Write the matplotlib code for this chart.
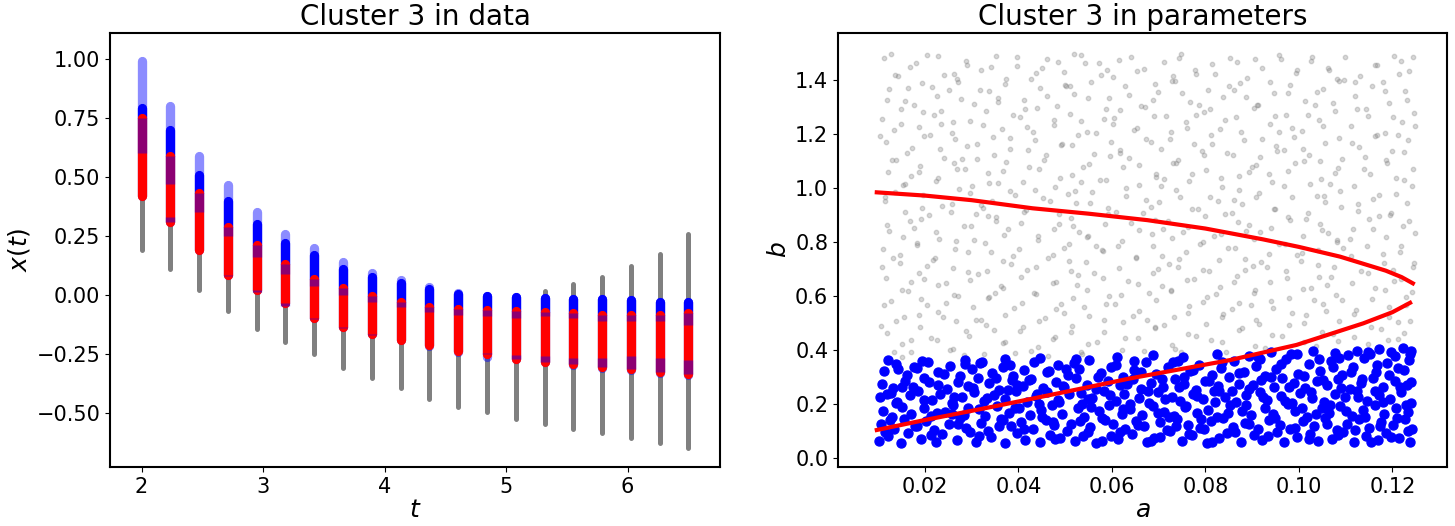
import matplotlib
matplotlib.use("Agg")
import matplotlib.pyplot as plt
import numpy as np

# ---------------------------------------------------------------------------
# Left panel: one column per time step, extents of each group
# ---------------------------------------------------------------------------
t_vals = [2.0, 2.237, 2.474, 2.711, 2.947, 3.184, 3.421, 3.658, 3.895, 4.132,
          4.368, 4.605, 4.842, 5.079, 5.316, 5.553, 5.789, 6.026, 6.263, 6.5]
gray_lo = [0.18, 0.10, 0.01, -0.08, -0.155, -0.21, -0.26, -0.32, -0.36, -0.405,
           -0.45, -0.485, -0.505, -0.535, -0.555, -0.578, -0.595, -0.617, -0.635, -0.659]
gray_hi = [0.80, 0.70, 0.52, 0.40, 0.30, 0.22, 0.17, 0.11, 0.08, 0.05,
           0.03, 0.01, 0.0, 0.0, 0.028, 0.057, 0.089, 0.132, 0.185, 0.268]
red_lo = [0.40, 0.29, 0.17, 0.065, 0.0, -0.055, -0.115, -0.155, -0.185, -0.21,
          -0.23, -0.255, -0.27, -0.289, -0.303, -0.31, -0.324, -0.331, -0.346, -0.353]
red_pure_lo = [0.42, 0.33, 0.19, 0.08, 0.015, -0.045, -0.10, -0.14, -0.17, -0.19,
               -0.21, -0.235, -0.245, -0.253, -0.26, -0.267, -0.267, -0.26, -0.267, -0.274]
red_pure_hi = [0.60, 0.47, 0.35, 0.25, 0.16, 0.09, 0.04, 0.0, -0.03, -0.05,
               -0.07, -0.085, -0.09, -0.096, -0.089, -0.096, -0.11, -0.11, -0.11, -0.125]
red_hi = [0.77, 0.61, 0.45, 0.31, 0.23, 0.15, 0.09, 0.05, 0.015, -0.01,
          -0.03, -0.04, -0.045, -0.046, -0.05, -0.056, -0.064, -0.064, -0.064, -0.056]
blue_lo = [0.40, 0.29, 0.17, 0.065, 0.0, -0.055, -0.115, -0.155, -0.185, -0.21,
           -0.235, -0.26, -0.28, -0.29, -0.305, -0.315, -0.33, -0.335, -0.35, -0.36]
blue_solid_hi = [0.81, 0.72, 0.53, 0.42, 0.32, 0.24, 0.19, 0.13, 0.095, 0.07,
                 0.045, 0.025, 0.015, 0.011, 0.007, 0.004, 0.002, -0.003, -0.008, -0.01]
blue_hi = [1.01, 0.82, 0.61, 0.485, 0.37, 0.28, 0.22, 0.16, 0.115, 0.085,
           0.055, 0.03, 0.017, 0.011, 0.007, 0.004, 0.002, -0.003, -0.008, -0.01]

# ---------------------------------------------------------------------------
# Right panel: parameter samples (a, b)
# ---------------------------------------------------------------------------
gray_pts = [
    (0.0112, 1.482), (0.0168, 1.447), (0.0205, 1.493), (0.0241, 1.418), (0.0287, 1.471), (0.0319, 1.436),
    (0.0352, 1.489), (0.0396, 1.452), (0.0428, 1.405), (0.0461, 1.478), (0.0497, 1.431), (0.0534, 1.494),
    (0.0572, 1.463), (0.0603, 1.412), (0.0641, 1.486), (0.0669, 1.441), (0.0712, 1.468), (0.0748, 1.497),
    (0.0781, 1.424), (0.0815, 1.459), (0.0853, 1.481), (0.0889, 1.408), (0.0921, 1.446), (0.0958, 1.492),
    (0.0993, 1.427), (0.1027, 1.469), (0.1064, 1.438), (0.1098, 1.485), (0.1131, 1.416), (0.1167, 1.454),
    (0.1203, 1.490), (0.1236, 1.433), (0.0143, 1.413), (0.0268, 1.402), (0.0451, 1.443), (0.0589, 1.437),
    (0.0731, 1.413), (0.0907, 1.476), (0.1082, 1.404), (0.1219, 1.469),
    (0.0124, 1.367), (0.0157, 1.321), (0.0193, 1.388), (0.0226, 1.342), (0.0271, 1.394), (0.0304, 1.311),
    (0.0338, 1.359), (0.0371, 1.384), (0.0412, 1.327), (0.0447, 1.372), (0.0483, 1.305), (0.0518, 1.348),
    (0.0556, 1.391), (0.0594, 1.333), (0.0627, 1.376), (0.0663, 1.302), (0.0698, 1.355), (0.0734, 1.398),
    (0.0767, 1.318), (0.0806, 1.364), (0.0838, 1.337), (0.0874, 1.389), (0.0912, 1.309), (0.0946, 1.352),
    (0.0981, 1.381), (0.1013, 1.323), (0.1052, 1.366), (0.1085, 1.397), (0.1121, 1.341), (0.1156, 1.376),
    (0.1192, 1.314), (0.1228, 1.358), (0.0176, 1.306), (0.0357, 1.332), (0.0502, 1.378), (0.0688, 1.326),
    (0.0861, 1.362), (0.1035, 1.306), (0.1179, 1.392), (0.0251, 1.362),
    (0.0108, 1.254), (0.0149, 1.291), (0.0187, 1.226), (0.0219, 1.272), (0.0258, 1.203), (0.0296, 1.248),
    (0.0331, 1.286), (0.0364, 1.217), (0.0403, 1.263), (0.0439, 1.298), (0.0476, 1.232), (0.0511, 1.275),
    (0.0547, 1.209), (0.0583, 1.256), (0.0618, 1.289), (0.0654, 1.224), (0.0691, 1.268), (0.0726, 1.207),
    (0.0759, 1.246), (0.0797, 1.283), (0.0832, 1.219), (0.0866, 1.262), (0.0903, 1.296), (0.0938, 1.238),
    (0.0972, 1.271), (0.1007, 1.211), (0.1043, 1.253), (0.1078, 1.287), (0.1112, 1.228), (0.1148, 1.266),
    (0.1184, 1.203), (0.1221, 1.245), (0.1247, 1.279), (0.0234, 1.237), (0.0418, 1.225), (0.0602, 1.237),
    (0.0781, 1.271), (0.0957, 1.207), (0.1124, 1.293), (0.0133, 1.214),
    (0.0117, 1.172), (0.0161, 1.128), (0.0198, 1.191), (0.0232, 1.143), (0.0279, 1.107), (0.0312, 1.164),
    (0.0347, 1.121), (0.0383, 1.186), (0.0421, 1.139), (0.0455, 1.103), (0.0491, 1.158), (0.0527, 1.195),
    (0.0561, 1.127), (0.0598, 1.169), (0.0636, 1.112), (0.0672, 1.181), (0.0705, 1.146), (0.0742, 1.104),
    (0.0776, 1.163), (0.0812, 1.198), (0.0847, 1.131), (0.0883, 1.176), (0.0917, 1.115), (0.0952, 1.157),
    (0.0989, 1.189), (0.1021, 1.124), (0.1057, 1.167), (0.1093, 1.109), (0.1128, 1.151), (0.1162, 1.193),
    (0.1199, 1.136), (0.1233, 1.178), (0.0139, 1.102), (0.0264, 1.183), (0.0436, 1.177), (0.0617, 1.141),
    (0.0797, 1.122), (0.0968, 1.141), (0.1141, 1.116), (0.1213, 1.196),
    (0.0121, 1.061), (0.0154, 1.013), (0.0189, 1.082), (0.0228, 1.037), (0.0263, 1.094), (0.0301, 1.008),
    (0.0336, 1.056), (0.0374, 1.098), (0.0409, 1.024), (0.0443, 1.071), (0.0479, 1.005), (0.0514, 1.048),
    (0.0551, 1.089), (0.0587, 1.031), (0.0624, 1.076), (0.0658, 1.012), (0.0694, 1.053), (0.0731, 1.092),
    (0.0764, 1.027), (0.0801, 1.068), (0.0836, 1.003), (0.0871, 1.044), (0.0908, 1.087), (0.0943, 1.021),
    (0.0977, 1.063), (0.1011, 1.099), (0.1048, 1.035), (0.1083, 1.074), (0.1117, 1.009), (0.1153, 1.052),
    (0.1188, 1.091), (0.1225, 1.028), (0.1244, 1.071), (0.0171, 1.046), (0.0357, 1.017), (0.0533, 1.023),
    (0.0712, 1.035), (0.0893, 1.058), (0.1066, 1.015), (0.0285, 1.069),
    (0.0114, 0.953), (0.0158, 0.911), (0.0196, 0.974), (0.0237, 0.932), (0.0272, 0.996), (0.0309, 0.905),
    (0.0343, 0.951), (0.0381, 0.988), (0.0416, 0.917), (0.0452, 0.962), (0.0487, 0.903), (0.0523, 0.944),
    (0.0558, 0.985), (0.0592, 0.926), (0.0631, 0.971), (0.0666, 0.908), (0.0701, 0.948), (0.0738, 0.993),
    (0.0772, 0.921), (0.0809, 0.966), (0.0843, 0.902), (0.0879, 0.941), (0.0914, 0.983), (0.0949, 0.924),
    (0.0985, 0.967), (0.1019, 0.906), (0.1055, 0.947), (0.1089, 0.989), (0.1126, 0.915), (0.1159, 0.958),
    (0.1196, 0.901), (0.1231, 0.943), (0.0137, 0.987), (0.0324, 0.927), (0.0506, 0.977), (0.0683, 0.929),
    (0.0862, 0.957), (0.1038, 0.972), (0.1208, 0.979), (0.0255, 0.912),
    (0.0119, 0.862), (0.0153, 0.817), (0.0191, 0.884), (0.0224, 0.839), (0.0266, 0.803), (0.0298, 0.858),
    (0.0334, 0.896), (0.0369, 0.826), (0.0406, 0.871), (0.0441, 0.808), (0.0477, 0.847), (0.0512, 0.889),
    (0.0549, 0.821), (0.0585, 0.865), (0.0621, 0.804), (0.0657, 0.843), (0.0692, 0.882), (0.0729, 0.816),
    (0.0763, 0.857), (0.0799, 0.898), (0.0834, 0.829), (0.0869, 0.874), (0.0905, 0.811), (0.0941, 0.852),
    (0.0976, 0.893), (0.1009, 0.823), (0.1046, 0.866), (0.1081, 0.806), (0.1115, 0.849), (0.1151, 0.887),
    (0.1186, 0.818), (0.1223, 0.861), (0.1248, 0.833), (0.0176, 0.852), (0.0351, 0.877), (0.0529, 0.836),
    (0.0709, 0.849), (0.0887, 0.841), (0.1063, 0.834), (0.1172, 0.897),
    (0.0111, 0.774), (0.0147, 0.723), (0.0184, 0.788), (0.0221, 0.741), (0.0259, 0.705), (0.0293, 0.762),
    (0.0329, 0.797), (0.0366, 0.728), (0.0402, 0.773), (0.0437, 0.709), (0.0473, 0.751), (0.0509, 0.792),
    (0.0544, 0.726), (0.0581, 0.768), (0.0616, 0.703), (0.0652, 0.746), (0.0689, 0.785), (0.0723, 0.719),
    (0.0758, 0.764), (0.0794, 0.799), (0.0829, 0.734), (0.0864, 0.777), (0.0901, 0.712), (0.0936, 0.755),
    (0.0971, 0.794), (0.1004, 0.729), (0.1041, 0.771), (0.1076, 0.707), (0.1111, 0.748), (0.1146, 0.786),
    (0.1182, 0.721), (0.1217, 0.763), (0.1245, 0.708), (0.0204, 0.711), (0.0388, 0.747), (0.0566, 0.787),
    (0.0744, 0.737), (0.0918, 0.726), (0.1094, 0.779), (0.0131, 0.741),
    (0.0116, 0.668), (0.0151, 0.621), (0.0188, 0.687), (0.0227, 0.642), (0.0262, 0.603), (0.0297, 0.659),
    (0.0332, 0.694), (0.0367, 0.628), (0.0405, 0.672), (0.0438, 0.607), (0.0474, 0.649), (0.0513, 0.691),
    (0.0546, 0.624), (0.0582, 0.666), (0.0619, 0.605), (0.0655, 0.645), (0.0688, 0.684), (0.0727, 0.618),
    (0.0761, 0.661), (0.0796, 0.697), (0.0832, 0.633), (0.0868, 0.676), (0.0903, 0.611), (0.0939, 0.653),
    (0.0973, 0.693), (0.1008, 0.627), (0.1044, 0.669), (0.1079, 0.604), (0.1114, 0.647), (0.1149, 0.686),
    (0.1184, 0.622), (0.1219, 0.664), (0.1243, 0.615), (0.0171, 0.652), (0.0349, 0.611), (0.0528, 0.677),
    (0.0707, 0.638), (0.0884, 0.696), (0.1061, 0.641), (0.1201, 0.698),
    (0.0113, 0.567), (0.0156, 0.524), (0.0192, 0.589), (0.0229, 0.541), (0.0267, 0.506), (0.0302, 0.558),
    (0.0337, 0.596), (0.0372, 0.529), (0.0408, 0.573), (0.0444, 0.509), (0.0481, 0.552), (0.0516, 0.591),
    (0.0552, 0.527), (0.0588, 0.569), (0.0623, 0.503), (0.0659, 0.546), (0.0695, 0.587), (0.0732, 0.521),
    (0.0766, 0.563), (0.0803, 0.598), (0.0837, 0.532), (0.0873, 0.575), (0.0909, 0.512), (0.0944, 0.554),
    (0.0979, 0.594), (0.1015, 0.528), (0.1051, 0.571), (0.1086, 0.507), (0.1122, 0.549), (0.1157, 0.588),
    (0.1193, 0.524), (0.1229, 0.566), (0.0139, 0.508), (0.0321, 0.513), (0.0497, 0.536), (0.0676, 0.512),
    (0.0856, 0.553), (0.1032, 0.586), (0.1213, 0.504), (0.0246, 0.576),
    (0.0118, 0.463), (0.0152, 0.421), (0.0189, 0.487), (0.0225, 0.438), (0.0261, 0.405), (0.0295, 0.452),
    (0.0331, 0.494), (0.0368, 0.427), (0.0404, 0.471), (0.0441, 0.412), (0.0478, 0.448), (0.0514, 0.489),
    (0.0548, 0.423), (0.0584, 0.466), (0.0621, 0.402), (0.0656, 0.443), (0.0692, 0.482), (0.0728, 0.419),
    (0.0763, 0.459), (0.0801, 0.497), (0.0835, 0.431), (0.0871, 0.474), (0.0907, 0.416), (0.0942, 0.455),
    (0.0978, 0.492), (0.1012, 0.428), (0.1049, 0.468), (0.1084, 0.433), (0.1119, 0.447), (0.1154, 0.486),
    (0.1191, 0.437), (0.1226, 0.462), (0.0171, 0.392), (0.0283, 0.381), (0.0392, 0.388), (0.0533, 0.394),
    (0.0611, 0.378), (0.0747, 0.391), (0.0152, 0.374), (0.0463, 0.379),
    # second pass, read in vertical strips
    (0.0134, 0.392), (0.0171, 0.437), (0.0106, 0.489), (0.0188, 0.531), (0.0127, 0.582), (0.0163, 0.617),
    (0.0199, 0.663), (0.0109, 0.706), (0.0146, 0.752), (0.0182, 0.797), (0.0123, 0.842), (0.0167, 0.878),
    (0.0194, 0.927), (0.0115, 0.968), (0.0158, 1.016), (0.0187, 1.058), (0.0129, 1.103), (0.0172, 1.148),
    (0.0103, 1.192), (0.0149, 1.236), (0.0196, 1.281), (0.0118, 1.327), (0.0164, 1.372), (0.0137, 1.417),
    (0.0181, 1.462), (0.0127, 1.497),
    (0.0253, 0.401), (0.0214, 0.446), (0.0287, 0.472), (0.0238, 0.523), (0.0205, 0.567), (0.0271, 0.601),
    (0.0246, 0.648), (0.0293, 0.689), (0.0218, 0.733), (0.0265, 0.776), (0.0231, 0.813), (0.0284, 0.861),
    (0.0209, 0.899), (0.0257, 0.942), (0.0296, 0.981), (0.0223, 1.027), (0.0268, 1.072), (0.0241, 1.113),
    (0.0289, 1.157), (0.0211, 1.198), (0.0259, 1.243), (0.0234, 1.286), (0.0278, 1.329), (0.0216, 1.373),
    (0.0263, 1.421), (0.0291, 1.456), (0.0229, 1.488),
    (0.0327, 0.384), (0.0372, 0.431), (0.0348, 0.476), (0.0309, 0.512), (0.0391, 0.556), (0.0336, 0.593),
    (0.0363, 0.638), (0.0314, 0.681), (0.0385, 0.719), (0.0342, 0.764), (0.0306, 0.806), (0.0377, 0.849),
    (0.0352, 0.893), (0.0321, 0.937), (0.0393, 0.974), (0.0338, 1.019), (0.0366, 1.062), (0.0311, 1.107),
    (0.0382, 1.146), (0.0345, 1.189), (0.0324, 1.234), (0.0389, 1.271), (0.0356, 1.318), (0.0317, 1.362),
    (0.0374, 1.403), (0.0341, 1.447), (0.0396, 1.484),
    (0.0426, 0.397), (0.0473, 0.441), (0.0409, 0.486), (0.0457, 0.519), (0.0492, 0.571), (0.0433, 0.611),
    (0.0481, 0.652), (0.0418, 0.698), (0.0464, 0.741), (0.0497, 0.779), (0.0441, 0.823), (0.0486, 0.866),
    (0.0412, 0.912), (0.0468, 0.951), (0.0436, 0.994), (0.0489, 1.037), (0.0423, 1.079), (0.0459, 1.124),
    (0.0494, 1.163), (0.0431, 1.207), (0.0477, 1.252), (0.0414, 1.294), (0.0462, 1.339), (0.0499, 1.381),
    (0.0438, 1.426), (0.0484, 1.467),
    (0.0537, 0.386), (0.0569, 0.429), (0.0512, 0.468), (0.0584, 0.513), (0.0541, 0.559), (0.0593, 0.599),
    (0.0526, 0.641), (0.0562, 0.684), (0.0508, 0.729), (0.0579, 0.771), (0.0547, 0.817), (0.0516, 0.859),
    (0.0591, 0.903), (0.0553, 0.946), (0.0521, 0.989), (0.0574, 1.031), (0.0538, 1.076), (0.0597, 1.118),
    (0.0514, 1.161), (0.0566, 1.204), (0.0533, 1.248), (0.0588, 1.291), (0.0549, 1.335), (0.0511, 1.376),
    (0.0577, 1.419), (0.0543, 1.464), (0.0519, 1.498),
    (0.0668, 0.398), (0.0627, 0.443), (0.0692, 0.484), (0.0645, 0.526), (0.0606, 0.571), (0.0679, 0.612),
    (0.0634, 0.656), (0.0698, 0.699), (0.0652, 0.742), (0.0613, 0.784), (0.0686, 0.828), (0.0641, 0.871),
    (0.0609, 0.913), (0.0674, 0.957), (0.0631, 0.999), (0.0695, 1.042), (0.0657, 1.086), (0.0618, 1.129),
    (0.0683, 1.172), (0.0648, 1.214), (0.0604, 1.259), (0.0671, 1.301), (0.0637, 1.344), (0.0693, 1.387),
    (0.0654, 1.432), (0.0616, 1.473),
    (0.0734, 0.403), (0.0781, 0.451), (0.0712, 0.493), (0.0763, 0.537), (0.0796, 0.578), (0.0727, 0.622),
    (0.0775, 0.663), (0.0741, 0.707), (0.0708, 0.749), (0.0789, 0.792), (0.0752, 0.836), (0.0719, 0.879),
    (0.0784, 0.921), (0.0746, 0.965), (0.0706, 1.008), (0.0771, 1.051), (0.0737, 1.094), (0.0793, 1.137),
    (0.0724, 1.181), (0.0761, 1.224), (0.0715, 1.266), (0.0786, 1.309), (0.0749, 1.353), (0.0729, 1.396),
    (0.0778, 1.438), (0.0743, 1.481),
    (0.0845, 0.394), (0.0812, 0.437), (0.0878, 0.481), (0.0836, 0.524), (0.0897, 0.566), (0.0823, 0.609),
    (0.0861, 0.651), (0.0807, 0.694), (0.0884, 0.737), (0.0849, 0.779), (0.0818, 0.822), (0.0893, 0.864),
    (0.0856, 0.907), (0.0827, 0.951), (0.0871, 0.993), (0.0833, 1.036), (0.0899, 1.079), (0.0859, 1.122),
    (0.0814, 1.164), (0.0876, 1.207), (0.0842, 1.251), (0.0809, 1.294), (0.0887, 1.336), (0.0851, 1.379),
    (0.0821, 1.423), (0.0868, 1.466),
    (0.0928, 0.409), (0.0963, 0.452), (0.0914, 0.496), (0.0985, 0.538), (0.0941, 0.581), (0.0906, 0.623),
    (0.0974, 0.666), (0.0932, 0.709), (0.0997, 0.752), (0.0958, 0.794), (0.0917, 0.837), (0.0981, 0.881),
    (0.0946, 0.923), (0.0909, 0.966), (0.0969, 1.009), (0.0936, 1.052), (0.0992, 1.094), (0.0953, 1.138),
    (0.0921, 1.181), (0.0986, 1.223), (0.0949, 1.266), (0.0911, 1.309), (0.0977, 1.352), (0.0939, 1.394),
    (0.0996, 1.437), (0.0961, 1.479),
    (0.1037, 0.415), (0.1074, 0.458), (0.1012, 0.501), (0.1058, 0.544), (0.1093, 0.587), (0.1026, 0.629),
    (0.1069, 0.672), (0.1041, 0.715), (0.1007, 0.758), (0.1082, 0.801), (0.1049, 0.843), (0.1016, 0.886),
    (0.1091, 0.929), (0.1054, 0.972), (0.1023, 1.014), (0.1078, 1.057), (0.1045, 1.101), (0.1009, 1.143),
    (0.1086, 1.186), (0.1051, 1.229), (0.1019, 1.271), (0.1073, 1.314), (0.1039, 1.357), (0.1097, 1.401),
    (0.1062, 1.443), (0.1028, 1.486),
    (0.1147, 0.421), (0.1213, 0.441), (0.1176, 0.479), (0.1238, 0.508), (0.1118, 0.534), (0.1192, 0.561),
    (0.1229, 0.597), (0.1163, 0.628), (0.1204, 0.657), (0.1132, 0.693), (0.1246, 0.722), (0.1181, 0.754),
    (0.1219, 0.786), (0.1109, 0.811), (0.1158, 0.847), (0.1236, 0.879), (0.1197, 0.909), (0.1127, 0.941),
    (0.1171, 0.973), (0.1242, 1.006), (0.1208, 1.038), (0.1139, 1.069), (0.1186, 1.102), (0.1226, 1.134),
    (0.1113, 1.166), (0.1167, 1.198), (0.1249, 1.231), (0.1201, 1.262), (0.1143, 1.294), (0.1231, 1.327),
    (0.1184, 1.358), (0.1121, 1.391), (0.1215, 1.423), (0.1162, 1.455), (0.1244, 1.484),
]

blue_pts = [
    (0.0102, 0.062), (0.0121, 0.081), (0.0148, 0.057), (0.0163, 0.094), (0.0191, 0.071), (0.0224, 0.059),
    (0.0236, 0.088), (0.0268, 0.066), (0.0297, 0.097), (0.0309, 0.061), (0.0341, 0.079), (0.0372, 0.055),
    (0.0398, 0.092), (0.0415, 0.068), (0.0446, 0.058), (0.0467, 0.085), (0.0489, 0.074), (0.0521, 0.063),
    (0.0549, 0.096), (0.0567, 0.057), (0.0598, 0.082), (0.0613, 0.069), (0.0642, 0.091), (0.0675, 0.058),
    (0.0691, 0.076), (0.0724, 0.099), (0.0749, 0.064), (0.0771, 0.087), (0.0803, 0.056), (0.0829, 0.073),
    (0.0847, 0.093), (0.0876, 0.061), (0.0905, 0.084), (0.0921, 0.067), (0.0953, 0.095), (0.0968, 0.059),
    (0.0997, 0.078), (0.1024, 0.089), (0.1041, 0.062), (0.1072, 0.071), (0.1095, 0.097), (0.1118, 0.058),
    (0.1143, 0.083), (0.1169, 0.066), (0.1187, 0.092), (0.1214, 0.074), (0.1238, 0.060),
    (0.0107, 0.128), (0.0134, 0.109), (0.0156, 0.143), (0.0178, 0.117), (0.0203, 0.136), (0.0219, 0.104),
    (0.0251, 0.125), (0.0276, 0.148), (0.0288, 0.112), (0.0321, 0.131), (0.0335, 0.102), (0.0362, 0.146),
    (0.0384, 0.119), (0.0406, 0.134), (0.0431, 0.107), (0.0458, 0.142), (0.0476, 0.121), (0.0503, 0.101),
    (0.0531, 0.138), (0.0554, 0.115), (0.0579, 0.147), (0.0602, 0.126), (0.0628, 0.108), (0.0651, 0.139),
    (0.0668, 0.118), (0.0703, 0.132), (0.0717, 0.103), (0.0739, 0.145), (0.0762, 0.122), (0.0788, 0.111),
    (0.0812, 0.137), (0.0838, 0.149), (0.0859, 0.114), (0.0884, 0.129), (0.0912, 0.106), (0.0936, 0.141),
    (0.0959, 0.124), (0.0982, 0.109), (0.1008, 0.136), (0.1033, 0.118), (0.1056, 0.147), (0.1081, 0.105),
    (0.1103, 0.127), (0.1128, 0.143), (0.1151, 0.113), (0.1176, 0.132), (0.1201, 0.121), (0.1227, 0.144),
    (0.1242, 0.108),
    (0.0111, 0.176), (0.0129, 0.152), (0.0152, 0.191), (0.0171, 0.163), (0.0197, 0.184), (0.0212, 0.157),
    (0.0243, 0.172), (0.0261, 0.198), (0.0283, 0.161), (0.0316, 0.181), (0.0329, 0.154), (0.0355, 0.193),
    (0.0379, 0.167), (0.0392, 0.186), (0.0424, 0.159), (0.0449, 0.178), (0.0472, 0.196), (0.0494, 0.164),
    (0.0527, 0.185), (0.0541, 0.153), (0.0572, 0.174), (0.0594, 0.197), (0.0621, 0.162), (0.0638, 0.182),
    (0.0664, 0.158), (0.0687, 0.194), (0.0712, 0.171), (0.0733, 0.155), (0.0757, 0.189), (0.0782, 0.166),
    (0.0806, 0.179), (0.0824, 0.151), (0.0853, 0.195), (0.0879, 0.173), (0.0897, 0.158), (0.0927, 0.187),
    (0.0945, 0.164), (0.0976, 0.199), (0.0992, 0.176), (0.1017, 0.153), (0.1049, 0.184), (0.1064, 0.168),
    (0.1089, 0.192), (0.1113, 0.157), (0.1137, 0.178), (0.1162, 0.195), (0.1183, 0.162), (0.1208, 0.186),
    (0.1234, 0.171),
    (0.0104, 0.226), (0.0127, 0.241), (0.0141, 0.208), (0.0168, 0.232), (0.0186, 0.249), (0.0215, 0.214),
    (0.0232, 0.238), (0.0258, 0.203), (0.0279, 0.227), (0.0304, 0.246), (0.0326, 0.211), (0.0348, 0.234),
    (0.0371, 0.219), (0.0394, 0.247), (0.0419, 0.206), (0.0437, 0.229), (0.0462, 0.243), (0.0485, 0.215),
    (0.0508, 0.236), (0.0536, 0.202), (0.0558, 0.224), (0.0583, 0.248), (0.0609, 0.213), (0.0626, 0.237),
    (0.0657, 0.221), (0.0679, 0.204), (0.0698, 0.244), (0.0728, 0.228), (0.0746, 0.211), (0.0773, 0.239),
    (0.0794, 0.217), (0.0819, 0.249), (0.0843, 0.226), (0.0866, 0.207), (0.0888, 0.234), (0.0917, 0.245),
    (0.0931, 0.216), (0.0962, 0.231), (0.0986, 0.203), (0.1003, 0.242), (0.1028, 0.222), (0.1053, 0.209),
    (0.1077, 0.238), (0.1098, 0.226), (0.1124, 0.247), (0.1146, 0.212), (0.1172, 0.235), (0.1196, 0.219),
    (0.1219, 0.244), (0.1239, 0.205),
    (0.0109, 0.274), (0.0132, 0.258), (0.0158, 0.287), (0.0174, 0.263), (0.0199, 0.296), (0.0227, 0.271),
    (0.0247, 0.254), (0.0271, 0.283), (0.0292, 0.266), (0.0313, 0.298), (0.0338, 0.277), (0.0359, 0.252),
    (0.0386, 0.289), (0.0409, 0.268), (0.0428, 0.293), (0.0453, 0.259), (0.0481, 0.281), (0.0498, 0.264),
    (0.0524, 0.297), (0.0546, 0.272), (0.0565, 0.255), (0.0591, 0.286), (0.0618, 0.269), (0.0645, 0.291),
    (0.0662, 0.257), (0.0684, 0.279), (0.0709, 0.262), (0.0736, 0.294), (0.0754, 0.276), (0.0779, 0.253),
    (0.0799, 0.285), (0.0826, 0.267), (0.0851, 0.299), (0.0872, 0.274), (0.0893, 0.256), (0.0918, 0.288),
    (0.0947, 0.263), (0.0965, 0.295), (0.0989, 0.278), (0.1013, 0.258), (0.1038, 0.284), (0.1061, 0.269),
    (0.1084, 0.292), (0.1109, 0.254), (0.1134, 0.277), (0.1158, 0.298), (0.1179, 0.265), (0.1205, 0.286),
    (0.1231, 0.271),
    (0.0113, 0.321), (0.0138, 0.347), (0.0161, 0.309), (0.0183, 0.334), (0.0207, 0.356), (0.0229, 0.318),
    (0.0254, 0.341), (0.0274, 0.305), (0.0301, 0.329), (0.0318, 0.352), (0.0344, 0.314), (0.0367, 0.338),
    (0.0389, 0.303), (0.0413, 0.326), (0.0434, 0.357), (0.0461, 0.319), (0.0484, 0.343), (0.0506, 0.308),
    (0.0529, 0.331), (0.0552, 0.362), (0.0577, 0.316), (0.0599, 0.339), (0.0624, 0.302), (0.0648, 0.327),
    (0.0673, 0.354), (0.0694, 0.311), (0.0719, 0.336), (0.0741, 0.361), (0.0768, 0.322), (0.0786, 0.345),
    (0.0815, 0.307), (0.0833, 0.333), (0.0861, 0.358), (0.0882, 0.317), (0.0908, 0.341), (0.0927, 0.304),
    (0.0951, 0.329), (0.0973, 0.366), (0.0998, 0.313), (0.1022, 0.348), (0.1046, 0.324), (0.1069, 0.359),
    (0.1093, 0.306), (0.1116, 0.337), (0.1139, 0.371), (0.1165, 0.319), (0.1189, 0.352), (0.1212, 0.333),
    (0.1236, 0.364),
    (0.0121, 0.362), (0.0194, 0.358), (0.0286, 0.363), (0.0372, 0.366), (0.0447, 0.372), (0.0523, 0.368),
    (0.0611, 0.375), (0.0689, 0.381), (0.0752, 0.374), (0.0824, 0.386), (0.0893, 0.379), (0.0941, 0.391),
    (0.0983, 0.384), (0.1031, 0.395), (0.1078, 0.388), (0.1124, 0.398), (0.1152, 0.385), (0.1171, 0.403),
    (0.1198, 0.391), (0.1223, 0.408), (0.1241, 0.396), (0.1086, 0.372), (0.0917, 0.368),
    # second pass, gaps and clumps
    (0.0115, 0.098), (0.0139, 0.205), (0.0152, 0.262), (0.0176, 0.336), (0.0184, 0.119), (0.0209, 0.281),
    (0.0226, 0.168), (0.0241, 0.312), (0.0262, 0.226), (0.0271, 0.128), (0.0285, 0.347), (0.0293, 0.185),
    (0.0302, 0.261), (0.0315, 0.082), (0.0333, 0.224), (0.0352, 0.297), (0.0366, 0.141), (0.0377, 0.252),
    (0.0381, 0.343), (0.0402, 0.187), (0.0411, 0.106), (0.0423, 0.288), (0.0439, 0.238), (0.0451, 0.153),
    (0.0466, 0.322), (0.0478, 0.071), (0.0487, 0.207), (0.0496, 0.268), (0.0512, 0.127), (0.0519, 0.353),
    (0.0533, 0.241), (0.0539, 0.081), (0.0556, 0.189), (0.0571, 0.301), (0.0586, 0.142), (0.0597, 0.234),
    (0.0609, 0.346), (0.0617, 0.097), (0.0633, 0.276), (0.0639, 0.201), (0.0656, 0.124), (0.0662, 0.318),
    (0.0677, 0.247), (0.0683, 0.063), (0.0699, 0.166), (0.0708, 0.293), (0.0713, 0.219), (0.0731, 0.357),
    (0.0738, 0.118), (0.0744, 0.264), (0.0759, 0.193), (0.0766, 0.091), (0.0774, 0.327), (0.0783, 0.231),
    (0.0791, 0.145), (0.0808, 0.286), (0.0815, 0.061), (0.0821, 0.209), (0.0836, 0.355), (0.0848, 0.168),
    (0.0857, 0.247), (0.0864, 0.098), (0.0871, 0.314), (0.0887, 0.196), (0.0894, 0.128), (0.0901, 0.272),
    (0.0913, 0.374), (0.0924, 0.226), (0.0934, 0.083), (0.0941, 0.301), (0.0949, 0.147), (0.0962, 0.349),
    (0.0971, 0.213), (0.0979, 0.262), (0.0991, 0.112), (0.0996, 0.386), (0.1006, 0.187), (0.1012, 0.305),
    (0.1021, 0.071), (0.1027, 0.244), (0.1036, 0.162), (0.1043, 0.367), (0.1052, 0.289), (0.1061, 0.126),
    (0.1066, 0.198), (0.1074, 0.339), (0.1083, 0.085), (0.1091, 0.259), (0.1101, 0.173), (0.1106, 0.381),
    (0.1112, 0.319), (0.1121, 0.104), (0.1127, 0.227), (0.1136, 0.292), (0.1141, 0.152), (0.1148, 0.394),
    (0.1155, 0.061), (0.1163, 0.249), (0.1168, 0.346), (0.1174, 0.118), (0.1181, 0.206), (0.1192, 0.307),
    (0.1197, 0.079), (0.1206, 0.377), (0.1211, 0.147), (0.1217, 0.262), (0.1224, 0.326), (0.1229, 0.196),
    (0.1233, 0.101), (0.1241, 0.283), (0.1237, 0.384), (0.0118, 0.237), (0.0126, 0.142), (0.0143, 0.329),
    (0.0197, 0.216), (0.0214, 0.086), (0.0258, 0.162), (0.0323, 0.357), (0.0358, 0.118), (0.0396, 0.271),
    (0.0443, 0.201), (0.0474, 0.134), (0.0501, 0.329), (0.0548, 0.219), (0.0578, 0.063), (0.0623, 0.181),
    (0.0648, 0.361), (0.0703, 0.078), (0.0722, 0.152), (0.0754, 0.301), (0.0798, 0.106), (0.0829, 0.247),
]

# boundary curve, two branches
upper_a = [0.0097, 0.020, 0.030, 0.043, 0.055, 0.0676, 0.080, 0.0923, 0.100, 0.1088, 0.1186, 0.122, 0.1244]
upper_b = [0.984, 0.972, 0.955, 0.925, 0.905, 0.881, 0.850, 0.810, 0.782, 0.746, 0.694, 0.670, 0.647]
lower_a = [0.0097, 0.020, 0.0353, 0.050, 0.0639, 0.0853, 0.0995, 0.1138, 0.120, 0.1238]
lower_b = [0.104, 0.141, 0.193, 0.245, 0.295, 0.363, 0.419, 0.499, 0.540, 0.575]

# ---------------------------------------------------------------------------
# Figure
# ---------------------------------------------------------------------------
W, H = 1455, 526
fig = plt.figure(figsize=(W / 100, H / 100), dpi=100)
ax1 = fig.add_axes([110 / W, 59 / H, 610 / W, 434 / H])
ax2 = fig.add_axes([838 / W, 59 / H, 609 / W, 434 / H])

tick_fs = 15
label_fs = 18
title_fs = 20

# --- left: data ---
ylim1 = (-0.728, 1.11)
ax1.set_xlim(1.74, 6.76)
ax1.set_ylim(*ylim1)
ax_h_pt = 434 / 100 * 72
u_per_pt = (ylim1[1] - ylim1[0]) / ax_h_pt

lw_gray, lw_col = 3.6, 6.7
cg = lw_gray / 2 * u_per_pt
cc = lw_col / 2 * u_per_pt

for i, t in enumerate(t_vals):
    ax1.plot([t, t], [gray_lo[i] + cg, gray_hi[i] - cg], color="gray",
             lw=lw_gray, solid_capstyle="round", zorder=1)
    ax1.plot([t, t], [blue_lo[i] + cc, blue_hi[i] - cc], color="blue", alpha=0.45,
             lw=lw_col, solid_capstyle="round", zorder=2)
    ax1.plot([t, t], [red_hi[i] - cc, blue_solid_hi[i] - cc], color="blue",
             lw=lw_col, solid_capstyle="round", zorder=3)
    ax1.plot([t, t], [red_lo[i] + cc, red_hi[i] - cc], color="red",
             lw=lw_col, solid_capstyle="round", zorder=4)
    ax1.plot([t, t], [red_pure_hi[i], red_hi[i] - cc], color="blue", alpha=0.45,
             lw=lw_col, solid_capstyle="butt", zorder=5)
    ax1.plot([t, t], [red_lo[i] + cc, red_pure_lo[i]], color="blue", alpha=0.45,
             lw=lw_col, solid_capstyle="butt", zorder=5)

ax1.set_xticks([2, 3, 4, 5, 6])
ax1.set_yticks([-0.5, -0.25, 0.0, 0.25, 0.5, 0.75, 1.0])
ax1.set_yticklabels(["\u22120.50", "\u22120.25", "0.00", "0.25", "0.50", "0.75", "1.00"])
ax1.set_xlabel("$t$", fontsize=label_fs, labelpad=1)
ax1.set_ylabel("$x(t)$", fontsize=label_fs, labelpad=3)
ax1.set_title("Cluster 3 in data", fontsize=title_fs, pad=6)

# --- right: parameters ---
g = np.array(gray_pts)
bl = np.array(blue_pts)
ax2.scatter(g[:, 0], g[:, 1], s=10, color="gray", alpha=0.3, zorder=1)
ax2.scatter(bl[:, 0], bl[:, 1], s=42, color="blue", zorder=2)
ax2.plot(upper_a, upper_b, color="red", lw=3, zorder=3)
ax2.plot(lower_a, lower_b, color="red", lw=3, zorder=3)

ax2.set_xlim(0.0014, 0.1317)
ax2.set_ylim(-0.033, 1.574)
ax2.set_xticks([0.02, 0.04, 0.06, 0.08, 0.10, 0.12])
ax2.set_xticklabels(["0.02", "0.04", "0.06", "0.08", "0.10", "0.12"])
ax2.set_yticks([0.0, 0.2, 0.4, 0.6, 0.8, 1.0, 1.2, 1.4])
ax2.set_yticklabels(["0.0", "0.2", "0.4", "0.6", "0.8", "1.0", "1.2", "1.4"])
ax2.set_xlabel("$a$", fontsize=label_fs, labelpad=1)
ax2.set_ylabel("$b$", fontsize=label_fs, labelpad=3)
ax2.set_title("Cluster 3 in parameters", fontsize=title_fs, pad=6)

for ax in (ax1, ax2):
    ax.tick_params(labelsize=tick_fs)
    for sp in ax.spines.values():
        sp.set_linewidth(1.5)

fig.savefig("out.png", dpi=100)
